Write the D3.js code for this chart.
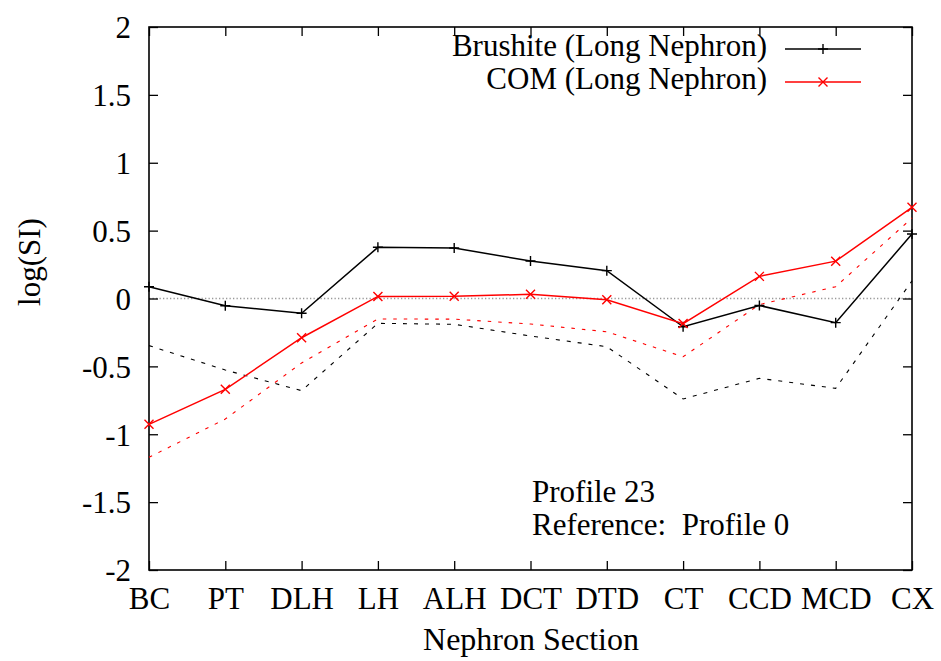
<!DOCTYPE html>
<html><head><meta charset="utf-8">
<script src="https://cdn.jsdelivr.net/npm/d3@7"></script>
<style>body{margin:0;background:#fff}svg{display:block}</style>
</head><body><svg id="c" width="941" height="661"></svg>
<script>
const categories = ["BC","PT","DLH","LH","ALH","DCT","DTD","CT","CCD","MCD","CX"];
const yTicks = [-2,-1.5,-1,-0.5,0,0.5,1,1.5,2];
const yTickLabels = ["-2","-1.5","-1","-0.5","0","0.5","1","1.5","2"];
const brushite = [0.087,-0.053,-0.109,0.377,0.372,0.276,0.205,-0.208,-0.052,-0.178,0.475];
const com = [-0.927,-0.669,-0.289,0.015,0.016,0.031,-0.009,-0.185,0.163,0.275,0.672];
const brushiteRef = [-0.347,-0.527,-0.679,-0.183,-0.19,-0.276,-0.355,-0.74,-0.588,-0.662,0.13];
const comRef = [-1.17,-0.888,-0.475,-0.151,-0.152,-0.188,-0.245,-0.429,-0.045,0.087,0.593];
const seriesNames = ["Brushite (Long Nephron)","COM (Long Nephron)"];
const annotation = ["Profile 23","Reference:  Profile 0"];

const FONT = "Liberation Serif, Times New Roman, Tinos, Noto Serif, DejaVu Serif, serif";
const svg = d3.select("#c");
const L=149,R=912,T=27,B=570;
const x = d3.scalePoint().domain(categories).range([L,R]);
const y = d3.scaleLinear().domain([-2,2]).range([B,T]);
const fs = 31;

// zero line
svg.append("line").attr("x1",L).attr("x2",R).attr("y1",y(0)).attr("y2",y(0))
  .attr("stroke","#999").attr("stroke-width",1.3).attr("stroke-dasharray","1.3,2.2");

// axes with inward ticks
const gl = svg.append("g").attr("transform",`translate(${L},0)`)
  .call(d3.axisLeft(y).tickValues(yTicks).tickFormat((d,i)=>yTickLabels[i]).tickSizeInner(-9).tickSizeOuter(0));
const gr = svg.append("g").attr("transform",`translate(${R},0)`)
  .call(d3.axisRight(y).tickValues(yTicks).tickFormat("").tickSizeInner(-9).tickSizeOuter(0));
const gb = svg.append("g").attr("transform",`translate(0,${B})`)
  .call(d3.axisBottom(x).tickSizeInner(-9).tickSizeOuter(0));
const gt = svg.append("g").attr("transform",`translate(0,${T})`)
  .call(d3.axisTop(x).tickFormat("").tickSizeInner(-9).tickSizeOuter(0));
[gl,gr,gb,gt].forEach(g=>{
  g.attr("font-family",null).attr("font-size",null);
  g.select(".domain").remove();
  g.selectAll(".tick line").attr("stroke","#000").attr("stroke-width",1.3);
  g.selectAll("text").attr("fill","#000").style("font-family",FONT).style("font-size",fs+"px");
});
gl.selectAll("text").attr("x",-18).attr("dy","0.35em");
gb.selectAll("text").attr("y",17).attr("dy","0.71em");

// border
svg.append("rect").attr("x",L).attr("y",T).attr("width",R-L).attr("height",B-T)
  .attr("fill","none").attr("stroke","#000").attr("stroke-width",1.6);

const line = d3.line().x((d,i)=>x(categories[i])).y(d=>y(d));
function drawLine(data,color,w,dash){
  svg.append("path").datum(data).attr("d",line).attr("fill","none")
    .attr("stroke",color).attr("stroke-width",w).attr("stroke-dasharray",dash||null);
}
drawLine(brushiteRef,"#000",1.1,"4,7");
drawLine(comRef,"#ff0000",1.1,"3.5,7");
drawLine(brushite,"#000",1.5);
drawLine(com,"#ff0000",1.5);

function plus(g,cx,cy){ const s=5;
  g.append("path").attr("d",`M${cx-s},${cy}H${cx+s}M${cx},${cy-s}V${cy+s}`).attr("stroke","#000").attr("stroke-width",1.4).attr("fill","none");}
function cross(g,cx,cy){ const s=4.5;
  g.append("path").attr("d",`M${cx-s},${cy-s}L${cx+s},${cy+s}M${cx-s},${cy+s}L${cx+s},${cy-s}`).attr("stroke","#ff0000").attr("stroke-width",1.4).attr("fill","none");}
const mg = svg.append("g");
brushite.forEach((v,i)=>plus(mg,x(categories[i]),y(v)));
com.forEach((v,i)=>cross(mg,x(categories[i]),y(v)));

function txt(xx,yy,t,anchor,size){
  return svg.append("text").attr("x",xx).attr("y",yy).attr("text-anchor",anchor||"start")
    .style("font-family",FONT).style("font-size",(size||fs)+"px").attr("fill","#000").style("white-space","pre").text(t);
}
// legend
[[seriesNames[0],"#000",plus,56],[seriesNames[1],"#ff0000",cross,89]].forEach(([t,c,m,by])=>{
  txt(767,by,t,"end",31);
  const ly = by-7;
  svg.append("line").attr("x1",785).attr("x2",861).attr("y1",ly).attr("y2",ly).attr("stroke",c).attr("stroke-width",1.5);
  m(svg,823,ly);
});

// annotation
txt(532,502,annotation[0]);
txt(532,535,annotation[1]);

// axis titles
txt(531,650,"Nephron Section","middle",32);
svg.append("text").attr("transform",`translate(40,262) rotate(-90)`).attr("text-anchor","middle")
  .style("font-family",FONT).style("font-size",fs+"px").text("log(SI)");
</script></body></html>
